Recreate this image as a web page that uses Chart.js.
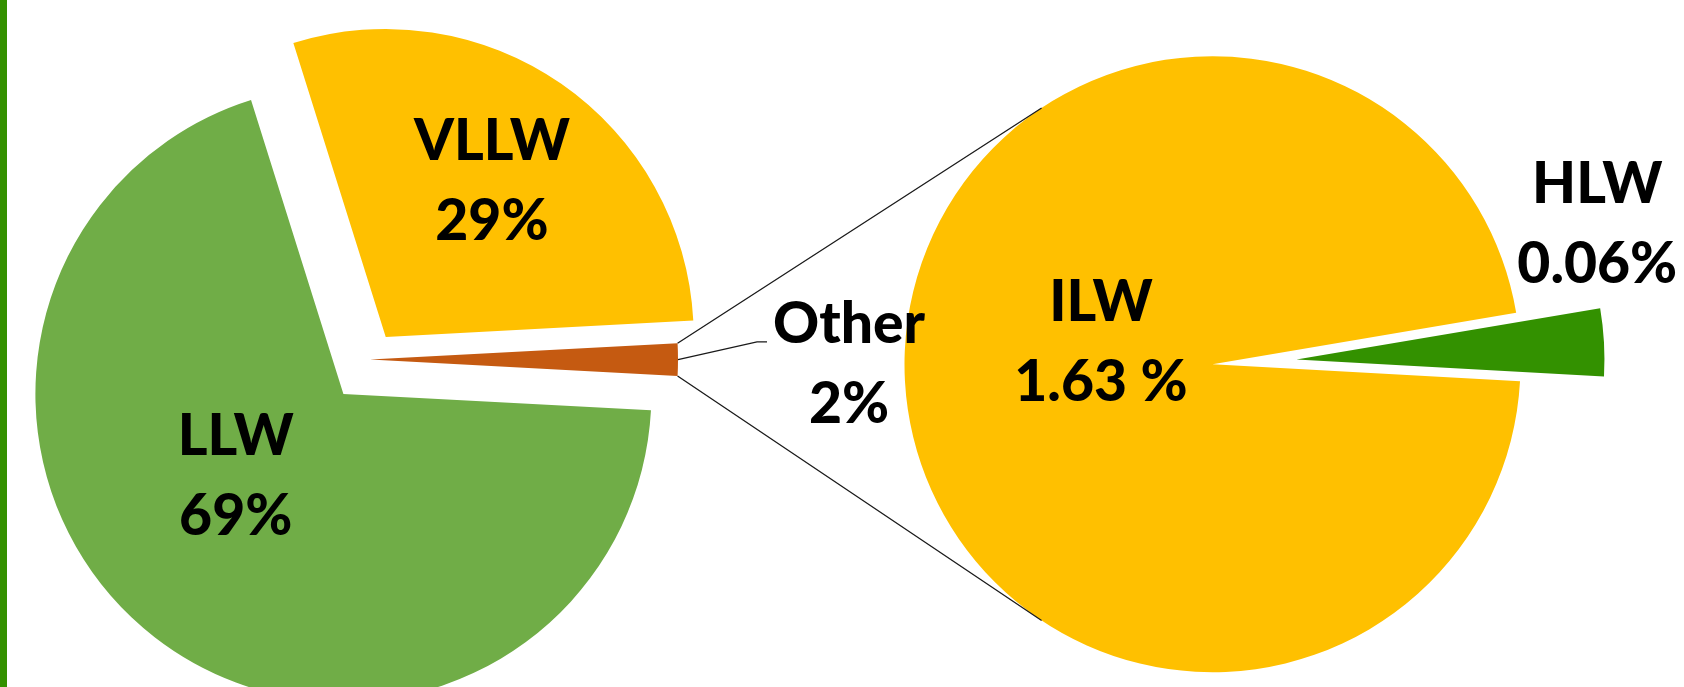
<!DOCTYPE html>
<html>
<head>
<meta charset="utf-8">
<script src="https://cdn.jsdelivr.net/npm/chart.js@4.4.1/dist/chart.umd.min.js"></script>
<style>
  html, body { margin: 0; padding: 0; background: #fff; }
  #wrap { position: relative; width: 1684px; height: 687px; overflow: hidden; }
  #wrap canvas { position: absolute; left: 0; top: 0; }
  #leftPie { z-index: 2; }
  #rightPie { z-index: 1; }
  #bar { position: absolute; left: 0; top: 0; width: 7px; height: 687px; background: #339100; z-index: 3; }
</style>
</head>
<body>
<div id="wrap">
  <canvas id="leftPie" width="1684" height="687"></canvas>
  <canvas id="rightPie" width="1684" height="687"></canvas>
  <div id="bar"></div>
</div>
<script>
// --- data ---
const breakdownLabels = ['HLW', 'ILW'];
const breakdownValues = [0.06, 1.63];
const breakdownText = ['0.06%', '1.63 %'];

const otherValue = breakdownValues.reduce((a, b) => a + b, 0);
const mainLabels = ['Other', 'LLW', 'VLLW'];
const mainValues = [otherValue, 69.3, 29.0];
const mainText = ['2%', '69%', '29%'];

// --- styles ---
const mainColors = ['#C55A11', '#70AD47', '#FFC000'];
const breakdownColors = ['#339100', '#FFC000'];
const mainExplode = [0, 43.4, 27.6];
const breakdownExplode = [84.1, 0];
const labelFont = '900 57px Lato';
const lineGap = 80;
// label anchor (centre x, first baseline) relative to each slice's vertex
const mainLabelOffset = [[479, -16.3], [-107.7, 61.1], [106.2, -177.4]];
const breakdownLabelOffset = [[300.8, -156], [-111.5, -43.2]];

const W = 1684, H = 687, R = 308;

// move exploded slices out along their middle angle
const explodePlugin = {
  id: 'explode',
  afterDatasetUpdate(chart, args, opts) {
    args.meta.data.forEach((arc, i) => {
      const d = (opts.distances || [])[i] || 0;
      const mid = (arc.startAngle + arc.endAngle) / 2;
      arc.x += Math.cos(mid) * d;
      arc.y += Math.sin(mid) * d;
    });
  }
};

function labelPlugin(names, texts, offsets) {
  return {
    id: 'sliceLabels',
    afterDatasetsDraw(chart) {
      const ctx = chart.ctx;
      const arcs = chart.getDatasetMeta(0).data;
      ctx.save();
      ctx.font = labelFont;
      ctx.fillStyle = '#000';
      ctx.textAlign = 'center';
      ctx.textBaseline = 'alphabetic';
      arcs.forEach((arc, i) => {
        const x = arc.x + offsets[i][0];
        const y = arc.y + offsets[i][1];
        ctx.fillText(names[i], x, y);
        ctx.fillText(texts[i], x, y + lineGap);
      });
      ctx.restore();
    }
  };
}

function pieConfig(labels, values, colors, rotation, padding, explode, plugins) {
  return {
    type: 'pie',
    data: {
      labels: labels,
      datasets: [{
        data: values,
        backgroundColor: colors,
        borderWidth: 0,
        clip: false
      }]
    },
    options: {
      responsive: false,
      animation: false,
      events: [],
      radius: R,
      rotation: rotation,
      layout: { padding: padding },
      plugins: {
        legend: { display: false },
        tooltip: { enabled: false },
        explode: { distances: explode }
      }
    },
    plugins: [explodePlugin].concat(plugins)
  };
}

// breakdown pie (drawn underneath so the "Other" label can overlap it)
const rightCx = 1212.5, rightCy = 364.2;
const rightChart = new Chart(document.getElementById('rightPie'), pieConfig(
  breakdownLabels, breakdownValues, breakdownColors,
  80.4,
  { left: 2 * rightCx - W, right: 0, top: 2 * rightCy - H, bottom: 0 },
  breakdownExplode,
  [labelPlugin(breakdownLabels, breakdownText, breakdownLabelOffset)]
));

// connector lines from "Other" to the breakdown pie, plus the label leader
const connectorPlugin = {
  id: 'connectors',
  afterDatasetsDraw(chart) {
    const ctx = chart.ctx;
    const other = chart.getDatasetMeta(0).data[0];
    const centre = rightChart.getDatasetMeta(0).data[1];
    const r1 = other.outerRadius, r2 = centre.outerRadius;
    const a = 123.7 * Math.PI / 180;
    ctx.save();
    ctx.strokeStyle = '#1a1a1a';
    ctx.lineWidth = 1.3;
    ctx.beginPath();
    ctx.moveTo(other.x + r1 * Math.cos(other.startAngle), other.y + r1 * Math.sin(other.startAngle));
    ctx.lineTo(centre.x + r2 * Math.cos(-a), centre.y + r2 * Math.sin(-a));
    ctx.moveTo(other.x + r1 * Math.cos(other.endAngle), other.y + r1 * Math.sin(other.endAngle));
    ctx.lineTo(centre.x + r2 * Math.cos(a), centre.y + r2 * Math.sin(a));
    // leader to "Other" label
    const mid = (other.startAngle + other.endAngle) / 2;
    const lx = other.x + mainLabelOffset[0][0], ly = other.y + mainLabelOffset[0][1];
    ctx.moveTo(other.x + r1 * Math.cos(mid), other.y + r1 * Math.sin(mid));
    ctx.lineTo(lx - 92, ly - 1.5);
    ctx.lineTo(lx - 82, ly - 1.5);
    ctx.stroke();
    ctx.restore();
  }
};

// main pie: "Other" slice centred on the right side
const leftCx = 370, leftCy = 359.6;
const leftChart = new Chart(document.getElementById('leftPie'), pieConfig(
  mainLabels, mainValues, mainColors,
  90 - otherValue / mainValues.reduce((a, b) => a + b, 0) * 180,
  { left: 0, right: W - 2 * leftCx, top: 2 * leftCy - H, bottom: 0 },
  mainExplode,
  [connectorPlugin, labelPlugin(mainLabels, mainText, mainLabelOffset)]
));
</script>
</body>
</html>
